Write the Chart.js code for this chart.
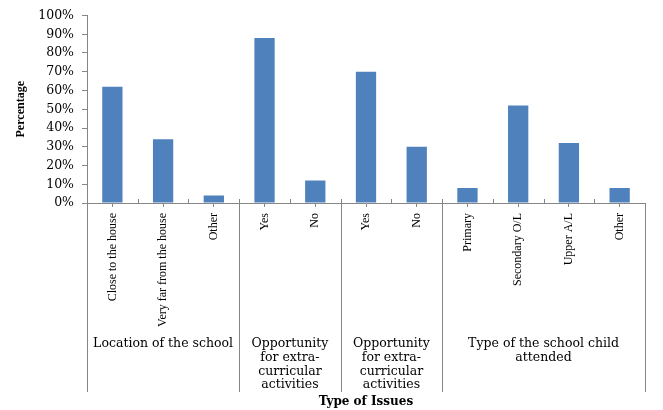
<!DOCTYPE html>
<html><head><meta charset="utf-8">
<script src="https://cdn.jsdelivr.net/npm/chart.js@4"></script>
<style>html,body{margin:0;padding:0;background:#fff}</style>
</head><body>
<canvas id="c" width="663" height="410"></canvas>
<script>
const categories = ["Close to the house","Very far from the house","Other","Yes","No","Yes","No","Primary","Secondary O/L","Upper A/L","Other"];
const values = [62,34,4,88,12,70,30,8,52,32,8];
const groupSizes = [3,2,2,4];
const groupLabels = [
  ["Location of the school"],
  ["Opportunity","for extra-","curricular","activities"],
  ["Opportunity","for extra-","curricular","activities"],
  ["Type of the school child","attended"]
];
const yMax = 100, yStep = 10;
const xTitle = "Type of Issues", yTitle = "Percentage";

const AXIS = '#868686';
const groupPlugin = {
  id: 'groups',
  afterDraw(chart) {
    const ctx = chart.ctx, xs = chart.scales.x, ca = chart.chartArea;
    const n = categories.length;
    const al = v => Math.round(v) + 0.5;
    ctx.save();
    ctx.strokeStyle = AXIS; ctx.lineWidth = 1;
    // inner boundary ticks (pointing up)
    ctx.beginPath();
    for (let i = 1; i < n; i++) {
      const b = al((xs.getPixelForValue(i-1) + xs.getPixelForValue(i)) / 2);
      ctx.moveTo(b, ca.bottom); ctx.lineTo(b, ca.bottom - 4);
    }
    ctx.stroke();
    // group dividers
    const bounds = [ca.left];
    let idx = 0;
    groupSizes.forEach(s => {
      idx += s;
      bounds.push(idx >= n ? ca.right : (xs.getPixelForValue(idx-1) + xs.getPixelForValue(idx)) / 2);
    });
    ctx.beginPath();
    bounds.forEach(b => { ctx.moveTo(al(b), ca.bottom); ctx.lineTo(al(b), ca.bottom + 189); });
    ctx.stroke();
    // group labels
    ctx.fillStyle = '#000';
    ctx.font = '12.5px "DejaVu Serif"';
    ctx.textAlign = 'center'; ctx.textBaseline = 'middle';
    groupLabels.forEach((lines, g) => {
      const cx = (bounds[g] + bounds[g+1]) / 2;
      lines.forEach((t, k) => ctx.fillText(t, cx, ca.bottom + 141 + k * 13.7));
    });
    ctx.restore();
  }
};

new Chart(document.getElementById('c'), {
  type: 'bar',
  data: {
    labels: categories,
    datasets: [{ data: values, backgroundColor: '#4F81BD', borderWidth: 0, barPercentage: 0.8, categoryPercentage: 0.5 }]
  },
  options: {
    responsive: false,
    animation: false,
    layout: { padding: { top: 14, right: 18, bottom: 0, left: 0 } },
    plugins: { legend: { display: false }, tooltip: { enabled: false } },
    scales: {
      x: {
        border: { display: true, color: AXIS, width: 1 },
        grid: { display: true, drawOnChartArea: false, offset: false, tickLength: 4, color: AXIS },
        ticks: { autoSkip: false, minRotation: 90, maxRotation: 90, padding: 6, color: '#000',
                 font: { family: '"Liberation Serif"', size: 12 } },
        title: { display: true, text: xTitle, color: '#000', padding: { top: 0, bottom: 1 },
                 font: { family: '"DejaVu Serif"', size: 12, weight: 'bold' } },
        afterFit(s) { s.height = 207; }
      },
      y: {
        min: 0, max: yMax,
        border: { display: true, color: AXIS, width: 1 },
        grid: { display: true, drawOnChartArea: false, tickLength: 5, color: AXIS },
        ticks: { stepSize: yStep, padding: 8, color: '#000', callback: v => v + '%',
                 font: { family: '"DejaVu Serif"', size: 12.5 } },
        title: { display: true, text: yTitle, color: '#000', padding: { top: 14, bottom: 0 },
                 font: { family: '"Liberation Serif"', size: 12, weight: 'bold' } },
        afterFit(s) { s.width = 87; }
      }
    }
  },
  plugins: [groupPlugin]
});
</script>
</body></html>
